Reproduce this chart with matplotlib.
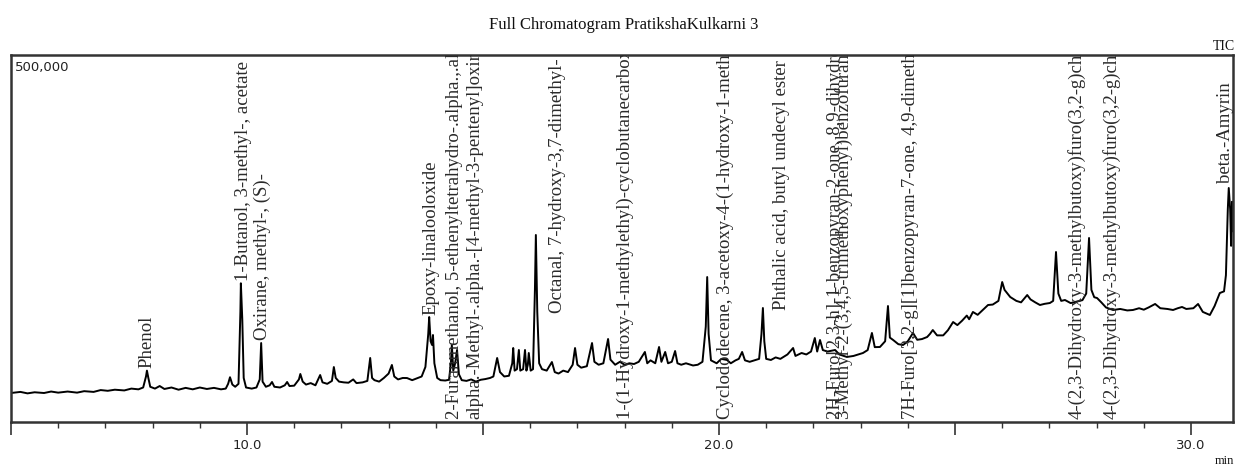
import matplotlib.pyplot as plt
from matplotlib.ticker import FixedLocator, MultipleLocator, FuncFormatter

# -----------------------------
# --- Dados (TIC)
# -----------------------------
time_min = [
    5.00, 5.20, 5.35, 5.50, 5.70, 5.85, 6.00, 6.20, 6.40, 6.55, 6.75, 6.90, 7.05, 7.20, 7.40, 7.55,
    7.70, 7.80, 7.86, 7.88, 7.91, 7.95, 8.05, 8.15, 8.25, 8.40, 8.55, 8.70, 8.85, 9.00, 9.15, 9.30,
    9.45, 9.55, 9.60, 9.64, 9.69, 9.75, 9.82, 9.86, 9.87, 9.90, 9.93, 9.98, 10.10, 10.20, 10.27, 10.30,
    10.33, 10.40, 10.48, 10.53, 10.58, 10.70, 10.80, 10.85, 10.90, 11.00, 11.10, 11.13, 11.18, 11.25,
    11.35, 11.45, 11.55, 11.60, 11.70, 11.80, 11.84, 11.88, 11.95, 12.05, 12.15, 12.25, 12.32, 12.45,
    12.55, 12.61, 12.65, 12.70, 12.80, 12.90, 13.00, 13.07, 13.12, 13.20, 13.30, 13.39, 13.50, 13.60,
    13.70, 13.78, 13.84, 13.86, 13.89, 13.92, 13.94, 13.97, 14.03, 14.10, 14.20, 14.28, 14.32, 14.34,
    14.37, 14.41, 14.45, 14.49, 14.55, 14.65, 14.75, 14.85, 14.95, 15.05, 15.15, 15.22, 15.30, 15.36,
    15.45, 15.55, 15.62, 15.64, 15.67, 15.72, 15.76, 15.79, 15.85, 15.89, 15.92, 15.95, 15.97, 16.01,
    16.06, 16.10, 16.12, 16.15, 16.19, 16.25, 16.35, 16.46, 16.52, 16.60, 16.70, 16.80, 16.90, 16.95,
    17.00, 17.08, 17.20, 17.31, 17.36, 17.45, 17.55, 17.65, 17.70, 17.80, 17.90, 18.00, 18.10, 18.20,
    18.30, 18.43, 18.48, 18.55, 18.65, 18.73, 18.78, 18.86, 18.92, 19.00, 19.07, 19.12, 19.20, 19.30,
    19.45, 19.55, 19.65, 19.72, 19.75, 19.78, 19.83, 19.95, 20.05, 20.17, 20.25, 20.35, 20.42, 20.49,
    20.55, 20.65, 20.75, 20.85, 20.90, 20.93, 20.96, 21.00, 21.10, 21.20, 21.30, 21.45, 21.57, 21.62,
    21.75, 21.85, 21.95, 22.03, 22.08, 22.14, 22.20, 22.30, 22.46, 22.55, 22.71, 22.85, 23.05, 23.15,
    23.24, 23.30, 23.41, 23.52, 23.58, 23.62, 23.69, 23.80, 23.90, 24.00, 24.11, 24.20, 24.30, 24.41,
    24.47, 24.53, 24.62, 24.75, 24.85, 24.96, 25.05, 25.15, 25.25, 25.30, 25.38, 25.48, 25.58, 25.70,
    25.80, 25.92, 26.00, 26.05, 26.17, 26.30, 26.40, 26.53, 26.60, 26.70, 26.80, 26.90, 27.01, 27.08,
    27.14, 27.19, 27.25, 27.33, 27.45, 27.58, 27.70, 27.78, 27.84, 27.89, 27.95, 28.01, 28.10, 28.20,
    28.35, 28.50, 28.65, 28.77, 28.90, 29.00, 29.10, 29.24, 29.35, 29.50, 29.62, 29.72, 29.81, 29.90,
    30.05, 30.15, 30.25, 30.40, 30.50, 30.61, 30.70, 30.74, 30.78, 30.80, 30.83, 30.85, 30.87, 30.89,
]
intensity = [
    39500, 41000, 39000, 40500, 39500, 41500, 40000, 41500, 40000, 42000, 41000, 43500, 42500, 44000, 43000, 45500,
    44500, 47000, 62000, 70000, 60000, 48000, 45500, 49000, 45000, 47000, 44000, 46500, 44500, 47000, 45000, 46500,
    44500, 45500, 52000, 61000, 51000, 48000, 52000, 150000, 189000, 140000, 60000, 47000, 45500, 47000, 58000, 107600,
    55000, 48000, 50000, 54500, 48000, 47000, 50000, 54500, 49000, 49500, 58000, 65400, 55000, 51000,
    53000, 50000, 64000, 54000, 52000, 56000, 74900, 60000, 55000, 54000, 53500, 58000, 53000, 54000,
    56000, 87200, 60000, 57000, 55000, 60000, 66000, 77700, 62000, 58000, 60000, 59900, 57000, 59500,
    62000, 75000, 120000, 143000, 110000, 105000, 118500, 80000, 60000, 57000, 56500, 57500, 80000, 104900,
    70000, 80000, 98100, 65000, 57000, 56000, 58000, 55000, 57500, 58500, 60000, 62000, 87200, 68000,
    62000, 63000, 80000, 100800, 70000, 72000, 98100, 70000, 72000, 98100, 70000, 78000, 94000, 70000,
    72000, 180000, 254800, 150000, 80000, 72000, 70000, 81700, 68000, 66000, 70000, 68000, 78000, 100800,
    78000, 74000, 76000, 107600, 82000, 78000, 80000, 113100, 85000, 78000, 82000, 78000, 80000, 79000,
    82000, 95400, 80000, 84000, 80000, 102200, 82000, 95400, 80000, 82000, 96700, 80000, 78000, 80000,
    77000, 78000, 82000, 130000, 197500, 120000, 84000, 80000, 86000, 84500, 80000, 84000, 86000, 95400,
    84000, 82000, 84000, 86000, 120000, 155300, 110000, 86000, 84500, 88000, 86000, 92000, 100800, 90000,
    94000, 92000, 96000, 114400, 96000, 111700, 98000, 96000, 98100, 92000, 88600, 90000, 94000, 98000,
    121300, 102000, 102200, 110000, 158000, 115000, 111700, 106000, 104900, 110000, 121300, 112000, 113000, 115800,
    120000, 125300, 118000, 118000, 125000, 136200, 132000, 138000, 145000, 140000, 149900, 146000, 152000, 159400,
    160000, 165000, 190700, 180000, 170300, 165000, 163000, 173000, 167000, 163000, 159400, 161000, 162100, 165000,
    231600, 175000, 165000, 166200, 162000, 164000, 166000, 175000, 250700, 180000, 170000, 168900, 163000, 156000,
    152600, 154000, 152000, 152600, 155000, 153000, 156000, 160800, 155000, 154000, 152600, 155000, 156700, 154000,
    155000, 160800, 150000, 145800, 158000, 175700, 178000, 200000, 290000, 318800, 290000, 240000, 300000, 260000,
]

# Identificações (tempo, base do texto, nome)
label_time = [7.88, 9.92, 10.32, 13.90, 14.39, 14.83, 16.57, 18.01, 20.13, 21.33,
              22.46, 22.63, 24.05, 27.58, 28.31, 30.74]
label_base = [73600, 192000, 111700, 145800, 4000, 4000, 148500, 4000, 4000, 152600,
              4000, 4000, 4000, 4000, 4000, 325600]
label_text = [
    "Phenol",
    "1-Butanol, 3-methyl-, acetate",
    "Oxirane, methyl-, (S)-",
    "Epoxy-linalooloxide",
    "2-Furanmethanol, 5-ethenyltetrahydro-.alpha.,.alpha.,5-trimethyl-, cis-",
    "alpha.-Methyl-.alpha.-[4-methyl-3-pentenyl]oxiranemethanol",
    "Octanal, 7-hydroxy-3,7-dimethyl-",
    "1-(1-Hydroxy-1-methylethyl)-cyclobutanecarboxylic acid",
    "Cyclododecene, 3-acetoxy-4-(1-hydroxy-1-methylethyl)-",
    "Phthalic acid, butyl undecyl ester",
    "2H-Furo[2,3-h]-1-benzopyran-2-one, 8,9-dihydro-",
    "3-Methyl-2-(3,4,5-trimethoxyphenyl)benzofuran",
    "7H-Furo[3,2-g][1]benzopyran-7-one, 4,9-dimethoxy-",
    "4-(2,3-Dihydroxy-3-methylbutoxy)furo(3,2-g)chromen-7-one",
    "4-(2,3-Dihydroxy-3-methylbutoxy)furo(3,2-g)chromen-7-one",
    "beta.-Amyrin",
]

# -----------------------------
# --- Figura
# -----------------------------
W, H = 1236, 466
fig = plt.figure(figsize=(W / 100, H / 100), dpi=100)
ax = fig.add_axes([11 / W, 1 - 422 / H, (1233 - 11) / W, (422 - 55) / H])

ax.plot(time_min, intensity, color='black', lw=1.4)

# nomes verticais, cortados no topo do eixo como no original
for t, b, s in zip(label_time, label_base, label_text):
    ax.text(t, b, s, rotation=90, ha='center', va='bottom', fontsize=13.5,
            family='Liberation Serif', color='#2a2a2a', clip_on=True)

ax.set_xlim(5.0, 30.89)
ax.set_ylim(0, 500000)

ax.xaxis.set_major_locator(FixedLocator([5, 10, 15, 20, 25, 30]))
ax.xaxis.set_minor_locator(MultipleLocator(1))
ax.xaxis.set_major_formatter(FuncFormatter(lambda v, p: f"{v:.1f}" if v in (10, 20, 30) else ""))
ax.tick_params(axis='x', which='major', length=9, width=1.2, color='#333333',
               labelsize=9.5, labelcolor='#222222', pad=3)
ax.tick_params(axis='x', which='minor', length=4, width=1.0, color='#333333')
ax.set_yticks([])
for sp in ax.spines.values():
    sp.set_color('#333333')
    sp.set_linewidth(1.8)

ax.text(0.003, 0.985, "500,000", transform=ax.transAxes, ha='left', va='top',
        fontsize=9.5, color='#222222')
fig.text(624 / W, 1 - 25 / H, "Full Chromatogram PratikshaKulkarni 3", ha='center', va='center',
         fontsize=12, family='Liberation Serif', color='#111111')
fig.text(1 - 1 / W, 1 - 47 / H, "TIC", ha='right', va='center', fontsize=10,
         family='Liberation Serif', color='#111111')
fig.text(1 - 2 / W, 1 - 461 / H, "min", ha='right', va='center', fontsize=9,
         family='Liberation Serif', color='#111111')

fig.savefig("out.png", dpi=100)
